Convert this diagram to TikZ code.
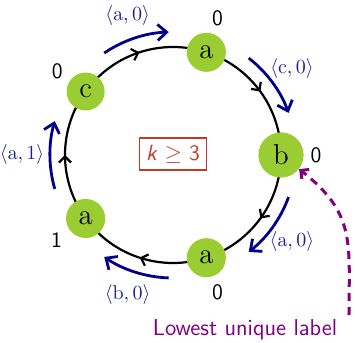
\documentclass[tikz,border=0pt]{standalone}
\usetikzlibrary{arrows.meta,decorations.markings,backgrounds,calc}
\definecolor{nodegreen}{RGB}{154,205,50}
\definecolor{arcblue}{RGB}{0,0,139}
\definecolor{lblblue}{RGB}{30,30,150}
\definecolor{boxred}{RGB}{192,57,43}
\definecolor{lblpurple}{RGB}{128,0,128}
\begin{document}
\begin{tikzpicture}[x=0.5pt,y=0.5pt,
  agent/.style={circle, fill=nodegreen, inner sep=3.5pt, font=\Large},
  ring/.style={line width=1.1pt, postaction={decorate},
    decoration={markings, mark=at position 0.5 with {\arrow{Straight Barb[length=3pt,width=6pt]}}}},
  msg/.style={draw=arcblue, line width=1.4pt, -{Straight Barb[length=4.5pt,width=8pt]}},
  msglabel/.style={text=lblblue, font=\normalsize},
  num/.style={font=\fontsize{11}{13}\selectfont\sffamily},
  hint/.style={draw=lblpurple, line width=1.5pt, dash pattern=on 4pt off 3pt,
    -{Straight Barb[length=3pt,width=6pt]}},
]
\useasboundingbox (0,0) rectangle (355,343);
\coordinate (O) at (173,188);
% agents
\node[agent] (b)  at ($(O)+(0:108)$)   {b};
\node[agent] (a1) at ($(O)+(72:108)$)  {a};
\node[agent] (c)  at ($(O)+(144:108)$) {c};
\node[agent] (a3) at ($(O)+(216:108)$) {a};
\node[agent] (a2) at ($(O)+(288:108)$) {a};
% ring
\begin{scope}[on background layer]
\draw[ring] (c.center)  arc[start angle=144, end angle=72,  radius=108];
\draw[ring] (a1.center) arc[start angle=72,  end angle=0,   radius=108];
\draw[ring] (b.center)  arc[start angle=0,   end angle=-72, radius=108];
\draw[ring] (a2.center) arc[start angle=288, end angle=216, radius=108];
\draw[ring] (a3.center) arc[start angle=216, end angle=144, radius=108];
\end{scope}
% messages
\draw[msg] ($(O)+(124:123)$) arc[start angle=124, end angle=92,  radius=123];
\draw[msg] ($(O)+(52:123)$)  arc[start angle=52,  end angle=20,  radius=123];
\draw[msg] ($(O)+(-20:123)$) arc[start angle=-20, end angle=-52, radius=123];
\draw[msg] ($(O)+(268:123)$) arc[start angle=268, end angle=236, radius=123];
\draw[msg] ($(O)+(196:123)$) arc[start angle=196, end angle=164, radius=123];
\node[msglabel] (m1) at ($(O)+(108:147)$) {$\langle\mathrm{a},0\rangle$};
\node[msglabel] (m2) at ($(O)+(36:147)$)  {$\langle\mathrm{c},0\rangle$};
\node[msglabel] (m3) at ($(O)+(-36:147)$) {$\langle\mathrm{a},0\rangle$};
\node[msglabel] (m4) at ($(O)+(252:147)$) {$\langle\mathrm{b},0\rangle$};
\node[msglabel] (m5) at ($(O)+(180:151)$) {$\langle\mathrm{a},1\rangle$};
% numbers
\node[num] (n1) at ($(O)+(72:144)$)  {0};
\node[num] (n0) at ($(O)+(0:143)$)   {0};
\node[num] (n2) at ($(O)+(-72:144)$) {0};
\node[num] (n3) at ($(O)+(216:144)$) {1};
\node[num] (n4) at ($(O)+(144:143)$) {0};
% k box
\node[draw=boxred, text=boxred, line width=0.8pt, minimum width=32.5pt, minimum height=16pt,
  font=\fontsize{11}{13}\selectfont] (k) at (173,189) {\textsf{\textit{k}} $\geq$ \textsf{3}};
% lowest unique label
\coordinate (s) at (349,28);
\draw[hint] (s) to[out=90, in=-38, looseness=1.2] (b);
\node[text=lblpurple, font=\fontsize{11.5}{14}\selectfont\sffamily] (lul) at (245,13) {Lowest unique label};
\end{tikzpicture}
\end{document}
